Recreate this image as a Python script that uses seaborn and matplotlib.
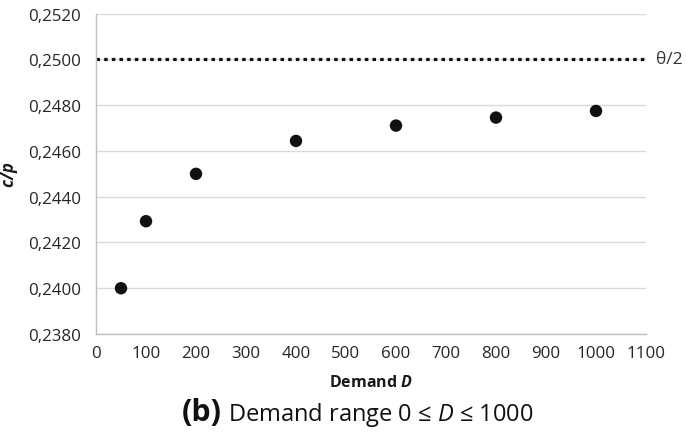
import matplotlib
matplotlib.use("Agg")
import matplotlib.pyplot as plt
import matplotlib.ticker as mticker
import seaborn as sns
import pandas as pd

# Data
demand = [50, 100, 200, 400, 600, 800, 1000]
cp_ratio = [0.2400, 0.24293, 0.2450, 0.24644, 0.24711, 0.24746, 0.24775]
theta_half = 0.2500
x_ticks = [0, 100, 200, 300, 400, 500, 600, 700, 800, 900, 1000, 1100]
y_ticks = [0.2380, 0.2400, 0.2420, 0.2440, 0.2460, 0.2480, 0.2500, 0.2520]

df = pd.DataFrame({"Demand": demand, "cp": cp_ratio})

sns.set_theme(style="white")
plt.rcParams["font.family"] = ["Open Sans", "DejaVu Sans"]
plt.rcParams["mathtext.fontset"] = "custom"
plt.rcParams["mathtext.rm"] = "Open Sans"
plt.rcParams["mathtext.it"] = "Open Sans:italic"
plt.rcParams["mathtext.bf"] = "Open Sans:bold"
plt.rcParams["mathtext.bfit"] = "Open Sans:bold:italic"

fig = plt.figure(figsize=(6.86, 4.35), dpi=100)
ax = fig.add_axes([96 / 686, 1 - 335 / 435, (646 - 96) / 686, (335 - 14.7) / 435])

sns.scatterplot(data=df, x="Demand", y="cp", ax=ax, color="#111111", s=80,
                edgecolor="none", zorder=3)

ax.axhline(theta_half, color="#111111", lw=2.3, linestyle=(0, (1.1, 1.3)),
           dash_capstyle="butt", zorder=2)
ax.text(1.018, theta_half, "θ/2", transform=ax.get_yaxis_transform(),
        ha="left", va="center", fontsize=12.5, color="#333333")

ax.set_xlim(0, 1100)
ax.set_ylim(0.2380, 0.2520)
ax.set_xticks(x_ticks)
ax.set_yticks(y_ticks)
ax.yaxis.set_major_formatter(mticker.FuncFormatter(lambda v, p: f"{v:.4f}".replace(".", ",")))

ax.grid(axis="y", color="#d9d9d9", lw=1)
ax.grid(axis="x", visible=False)
for s in ["top", "right"]:
    ax.spines[s].set_visible(False)
for s in ["left", "bottom"]:
    ax.spines[s].set_color("#bfbfbf")
    ax.spines[s].set_linewidth(1)

ax.tick_params(axis="both", length=0, labelsize=12.2, colors="#262626")
ax.tick_params(axis="x", pad=8)
ax.tick_params(axis="y", pad=11)

ax.set_xlabel("Demand $\\mathbfit{D}$", fontsize=11.5, fontweight="bold",
              color="#1a1a1a", labelpad=9)
ax.set_ylabel("$\\mathbfit{c/p}$", fontsize=12, color="#1a1a1a")
ax.yaxis.set_label_coords(-0.158, 0.5)
ax.yaxis.label.set_va("center")

fig.text(222 / 686, 1 - 413 / 435, "(b)", ha="right", va="center",
         fontsize=22, fontweight="bold", color="#111111")
fig.text(228 / 686, 1 - 415 / 435, "Demand range 0 ≤ $\\mathit{D}$ ≤ 1000",
         ha="left", va="center", fontsize=17, color="#111111")

fig.savefig("out.png", dpi=100)
